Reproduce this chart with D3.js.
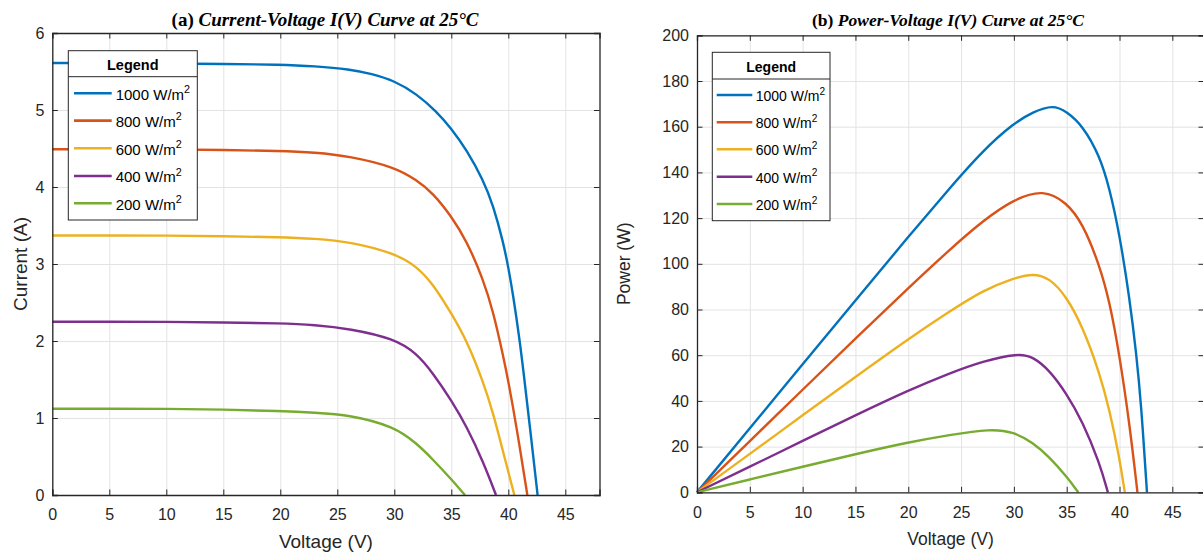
<!DOCTYPE html>
<html>
<head>
<meta charset="utf-8">
<script src="https://cdn.jsdelivr.net/npm/d3@7"></script>
<style>
  html, body { margin: 0; padding: 0; background: #ffffff; }
  svg { display: block; }
</style>
</head>
<body>
<svg id="chart" width="1203" height="556"></svg>
<script>
// ---------------- DATA ----------------
const seriesLabels = ["1000", "800", "600", "400", "200"];
const seriesColors = ["#0072BD", "#D95319", "#EDB120", "#7E2F8E", "#77AC30"];

const xTicks = [0, 5, 10, 15, 20, 25, 30, 35, 40, 45];
const currentTicks = [0, 1, 2, 3, 4, 5, 6];
const powerTicks = [0, 20, 40, 60, 80, 100, 120, 140, 160, 180, 200];

// I(V) curves
const ivV1000 = [0, 5, 10, 15, 20, 23, 26.1, 28, 30, 31.96, 33.7, 35, 36.35, 37.8, 38.68, 39.56, 40, 40.44, 40.96, 41.32, 41.9, 42.57];
const ivI1000 = [5.61, 5.61, 5.60, 5.60, 5.59, 5.57, 5.53, 5.47, 5.38, 5.21, 4.98, 4.76, 4.48, 4.09, 3.76, 3.28, 2.96, 2.58, 2.05, 1.62, 0.88, 0];
const ivV800 = [0, 5, 10, 15, 20, 23, 26.1, 30, 31.96, 33.4, 35, 36.35, 37.8, 38.68, 39.56, 40, 40.73, 41.67];
const ivI800 = [4.49, 4.49, 4.49, 4.48, 4.47, 4.45, 4.40, 4.26, 4.09, 3.92, 3.62, 3.30, 2.80, 2.38, 1.80, 1.48, 0.88, 0];
const ivV600 = [0, 5, 10, 15, 20, 23, 26.1, 30, 31.96, 33.4, 35, 36.35, 37.8, 38.68, 39.56, 40.53];
const ivI600 = [3.37, 3.37, 3.37, 3.36, 3.35, 3.33, 3.29, 3.14, 2.97, 2.74, 2.36, 2.01, 1.47, 1.06, 0.55, 0];
const ivV400 = [0, 5, 10, 15, 20, 23, 26.1, 30, 31.96, 33.4, 35, 36.35, 37.8, 38.92];
const ivI400 = [2.25, 2.25, 2.25, 2.24, 2.23, 2.21, 2.16, 2.03, 1.84, 1.58, 1.23, 0.89, 0.43, 0];
const ivV200 = [0, 5, 10, 15, 20, 23, 26.1, 30, 31.96, 33.4, 34.9, 36.2];
const ivI200 = [1.12, 1.12, 1.12, 1.11, 1.09, 1.07, 1.04, 0.89, 0.67, 0.46, 0.22, 0];

// P(V) curves
const pvV1000 = [0, 5, 10, 15, 20, 23.9, 27.05, 30, 31.8, 33.7, 35, 36.5, 38.1, 39.06, 40, 40.95, 41.6, 42.06, 42.6];
const pvP1000 = [0, 28.0, 56.0, 84.0, 111.8, 133.0, 149.5, 161.6, 166.4, 169.6, 166.6, 160.5, 147.5, 133.0, 113.0, 85.0, 60.5, 38.0, 0];
const pvV800 = [0, 5, 10, 15, 20, 23.9, 27.05, 30, 32.8, 35, 36.5, 38.1, 39.06, 40, 40.95, 41.7];
const pvP800 = [0, 22.4, 44.9, 67.3, 89.4, 106.1, 118.8, 128.3, 132.6, 126.8, 117.8, 99.5, 83.5, 60.0, 30.0, 0];
const pvV600 = [0, 5, 10, 15, 20, 23.9, 27.05, 30, 31.8, 33.4, 35, 36.5, 38.1, 39.06, 40, 40.5];
const pvP600 = [0, 16.8, 33.7, 50.5, 67.1, 79.1, 88.4, 93.7, 95.8, 93.8, 85.5, 72.5, 52.5, 36.0, 15.0, 0];
const pvV400 = [0, 5, 10, 15, 20, 23.9, 27.05, 30.4, 31.8, 33.4, 35, 36.5, 38.1, 38.9];
const pvP400 = [0, 11.2, 22.5, 33.7, 44.6, 52.1, 57.4, 60.8, 59.4, 53.3, 43.1, 31.0, 13.0, 0];
const pvV200 = [0, 5, 10, 15, 20, 23.9, 27.8, 30, 31.8, 33.4, 35, 36.1];
const pvP200 = [0, 5.6, 11.2, 16.7, 21.9, 25.1, 27.8, 26.4, 21.8, 15.3, 6.8, 0];

const ivSeries = [[ivV1000, ivI1000], [ivV800, ivI800], [ivV600, ivI600], [ivV400, ivI400], [ivV200, ivI200]];
const pvSeries = [[pvV1000, pvP1000], [pvV800, pvP800], [pvV600, pvP600], [pvV400, pvP400], [pvV200, pvP200]];

// ---------------- DRAWING ----------------
const svg = d3.select("#chart");
svg.append("rect").attr("width", 1203).attr("height", 556).attr("fill", "#ffffff");

const AX = "#262626";
const GRID = "#e3e3e3";
const SANS = "'Liberation Sans', Arial, Helvetica, sans-serif";
const SERIF = "'Liberation Serif', 'Times New Roman', serif";

function panel(opts) {
  const { left, right, top, bottom, yDomain, yTicks, series, yLabel, yLabelX,
          titleA, titleB, legend, tickFont, legendFont, legendHeaderFont,
          labelFont, titleFont, titleY, xLabelY } = opts;
  const g = svg.append("g");
  const x = d3.scaleLinear().domain([0, 48]).range([left, right]);
  const y = d3.scaleLinear().domain(yDomain).range([bottom, top]);

  // grid
  g.append("g").attr("transform", `translate(0,${bottom})`)
    .call(d3.axisBottom(x).tickValues(xTicks).tickSize(-(bottom - top)).tickFormat(""))
    .call(s => s.select(".domain").remove())
    .call(s => s.selectAll("line").attr("stroke", GRID).attr("stroke-width", 1));
  g.append("g").attr("transform", `translate(${left},0)`)
    .call(d3.axisLeft(y).tickValues(yTicks).tickSize(-(right - left)).tickFormat(""))
    .call(s => s.select(".domain").remove())
    .call(s => s.selectAll("line").attr("stroke", GRID).attr("stroke-width", 1));

  // curves
  const line = d3.line().x(d => x(d[0])).y(d => y(d[1])).curve(d3.curveBasis);
  series.forEach((s, i) => {
    const pts = s[0].map((v, k) => [v, s[1][k]]);
    g.append("path").datum(pts).attr("d", line)
      .attr("fill", "none").attr("stroke", seriesColors[i]).attr("stroke-width", 2.4)
      .attr("stroke-linejoin", "round");
  });

  // axes (box with inward ticks)
  const tk = 5.5;
  const fmt = d3.format("d");
  const bx = g.append("g").attr("transform", `translate(0,${bottom})`)
    .call(d3.axisBottom(x).tickValues(xTicks).tickSize(-tk).tickPadding(14).tickFormat(fmt));
  const tx = g.append("g").attr("transform", `translate(0,${top})`)
    .call(d3.axisTop(x).tickValues(xTicks).tickSize(-tk).tickFormat(""));
  const ly = g.append("g").attr("transform", `translate(${left},0)`)
    .call(d3.axisLeft(y).tickValues(yTicks).tickSize(-tk).tickPadding(8).tickFormat(fmt));
  const ry = g.append("g").attr("transform", `translate(${right},0)`)
    .call(d3.axisRight(y).tickValues(yTicks).tickSize(-tk).tickFormat(""));
  [bx, tx, ly, ry].forEach(a => {
    a.select(".domain").attr("stroke", AX).attr("stroke-width", 1.3);
    a.selectAll(".tick line").attr("stroke", AX).attr("stroke-width", 1);
    a.selectAll("text").attr("fill", AX).style("font-family", SANS).style("font-size", tickFont + "px");
  });
  bx.selectAll("text").attr("dy", "0.71em");

  // axis labels
  g.append("text").attr("x", (left + right) / 2).attr("y", xLabelY)
    .attr("text-anchor", "middle").attr("fill", AX)
    .style("font-family", SANS).style("font-size", labelFont + "px").text("Voltage (V)");
  g.append("text").attr("transform", `translate(${yLabelX},${(top + bottom) / 2}) rotate(-90)`)
    .attr("text-anchor", "middle").attr("fill", AX)
    .style("font-family", SANS).style("font-size", labelFont + "px").text(yLabel);

  // title
  const t = g.append("text").attr("x", opts.titleX).attr("y", titleY).attr("text-anchor", "middle")
    .attr("fill", "#000").style("font-family", SERIF).style("font-size", titleFont + "px").style("font-weight", "bold");
  t.append("tspan").text(titleA);
  t.append("tspan").style("font-style", "italic").text(titleB);

  // legend
  const L = legend;
  const lg = g.append("g");
  lg.append("rect").attr("x", L.x0).attr("y", L.y0).attr("width", L.x1 - L.x0).attr("height", L.y1 - L.y0)
    .attr("fill", "#ffffff").attr("stroke", AX).attr("stroke-width", 1);
  lg.append("line").attr("x1", L.x0).attr("x2", L.x1).attr("y1", L.div).attr("y2", L.div)
    .attr("stroke", AX).attr("stroke-width", 1);
  lg.append("text").attr("x", (L.x0 + L.x1) / 2).attr("y", L.headY).attr("text-anchor", "middle")
    .attr("fill", "#000").style("font-family", SANS).style("font-weight", "bold")
    .style("font-size", legendHeaderFont + "px").text("Legend");
  seriesLabels.forEach((lab, i) => {
    const yy = L.rows[i];
    lg.append("line").attr("x1", L.lx0).attr("x2", L.lx1).attr("y1", yy).attr("y2", yy)
      .attr("stroke", seriesColors[i]).attr("stroke-width", 2.6);
    const tt = lg.append("text").attr("x", L.tx).attr("y", yy + legendFont * 0.42).attr("fill", "#000")
      .style("font-family", SANS).style("font-size", legendFont + "px");
    tt.append("tspan").text(lab + " W/m");
    tt.append("tspan").attr("dy", -legendFont * 0.45).style("font-size", (legendFont * 0.72) + "px").text("2");
  });
}

panel({
  left: 52.3, right: 599.5, top: 33, bottom: 495,
  yDomain: [0, 6], yTicks: currentTicks, series: ivSeries,
  yLabel: "Current (A)", yLabelX: 27,
  titleX: 325, titleY: 26, titleFont: 19, labelFont: 19, xLabelY: 548,
  titleA: "(a) ", titleB: "Current-Voltage I(V) Curve at 25°C",
  tickFont: 16, legendFont: 15, legendHeaderFont: 14.5,
  legend: { x0: 68.3, x1: 197.3, y0: 50.7, y1: 220, div: 76.7, headY: 69.5,
            rows: [93.3, 120.6, 148.3, 176, 203.3], lx0: 74, lx1: 111.7, tx: 115.7 }
});

panel({
  left: 697, right: 1204, top: 35.3, bottom: 492.3,
  yDomain: [0, 200], yTicks: powerTicks, series: pvSeries,
  yLabel: "Power (W)", yLabelX: 630,
  titleX: 948, titleY: 25.5, titleFont: 17.5, labelFont: 17.5, xLabelY: 545,
  titleA: "(b) ", titleB: "Power-Voltage I(V) Curve at 25°C",
  tickFont: 16, legendFont: 14, legendHeaderFont: 14,
  legend: { x0: 712.3, x1: 830, y0: 52.3, y1: 220.7, div: 79, headY: 71.5,
            rows: [95, 122.3, 149.3, 176.7, 204], lx0: 716.7, lx1: 752.3, tx: 755.7 }
});
</script>
</body>
</html>
